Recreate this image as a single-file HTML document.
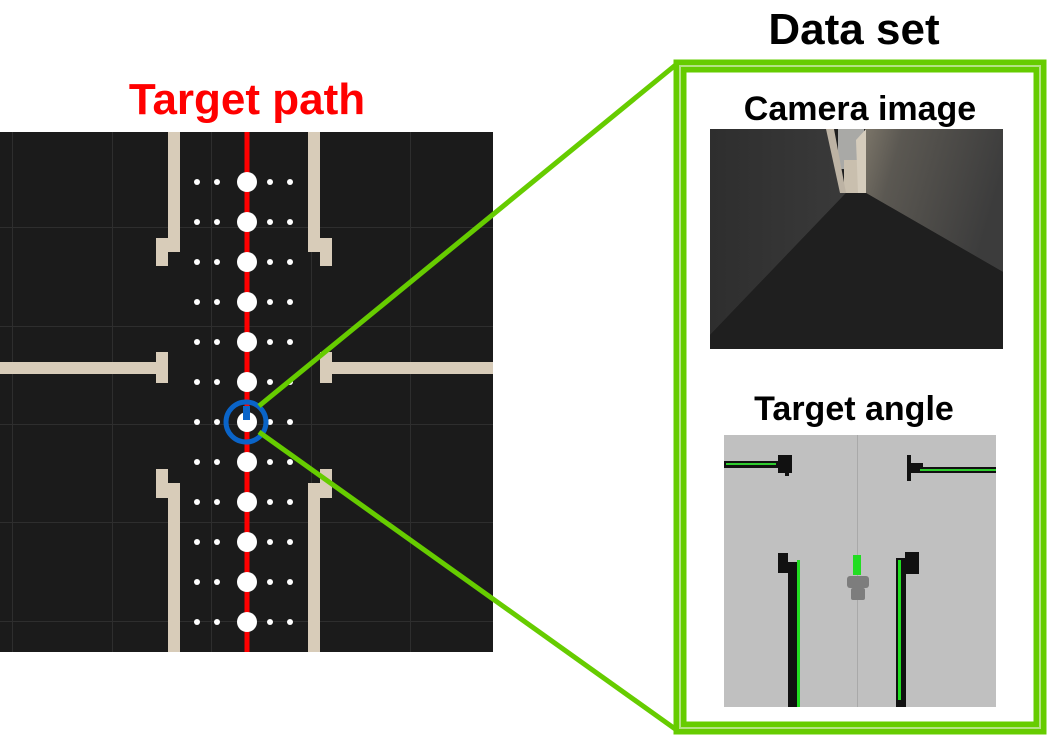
<!DOCTYPE html>
<html><head><meta charset="utf-8"><style>
html,body{margin:0;padding:0;background:#fff;}
svg{display:block;}
text{font-family:"Liberation Sans",Arial,sans-serif;font-weight:bold;}
</style></head><body>
<svg width="1049" height="736" viewBox="0 0 1049 736" xmlns="http://www.w3.org/2000/svg">
<defs>
<linearGradient id="rw" x1="0" y1="0" x2="1" y2="0.3">
<stop offset="0" stop-color="#7a7468"/><stop offset="0.25" stop-color="#5b5852"/><stop offset="1" stop-color="#3c3c3c"/>
</linearGradient>
<linearGradient id="lw" x1="0" y1="0" x2="1" y2="0">
<stop offset="0" stop-color="#2e2e2e"/><stop offset="1" stop-color="#3a3a3a"/>
</linearGradient>
</defs>
<text x="854" y="44" font-size="44" text-anchor="middle" fill="#000">Data set</text>
<text x="247" y="114" font-size="44" text-anchor="middle" fill="#ff0000">Target path</text>

<!-- map -->
<rect x="0" y="132" width="493" height="520" fill="#1b1b1b"/>
<g stroke="#2e2e2e" stroke-width="1">
<line x1="12.5" y1="132" x2="12.5" y2="652"/><line x1="112.5" y1="132" x2="112.5" y2="652"/>
<line x1="211.5" y1="132" x2="211.5" y2="652"/><line x1="311.5" y1="132" x2="311.5" y2="652"/>
<line x1="410.5" y1="132" x2="410.5" y2="652"/>
<line x1="0" y1="227.5" x2="493" y2="227.5"/><line x1="0" y1="326.5" x2="493" y2="326.5"/>
<line x1="0" y1="424.5" x2="493" y2="424.5"/><line x1="0" y1="522.5" x2="493" y2="522.5"/>
<line x1="0" y1="621.5" x2="493" y2="621.5"/>
</g>
<g fill="#d8ccb9">
<rect x="168" y="132" width="12" height="120"/><rect x="156" y="238" width="24" height="14"/><rect x="156" y="238" width="12" height="28"/>
<rect x="308" y="132" width="12" height="120"/><rect x="308" y="238" width="24" height="14"/><rect x="320" y="238" width="12" height="28"/>
<rect x="0" y="362" width="168" height="12"/><rect x="156" y="352" width="12" height="31"/>
<rect x="320" y="362" width="173" height="12"/><rect x="320" y="352" width="12" height="31"/>
<rect x="156" y="469" width="12" height="29"/><rect x="156" y="483" width="24" height="15"/><rect x="168" y="483" width="12" height="169"/>
<rect x="320" y="469" width="12" height="29"/><rect x="308" y="483" width="24" height="15"/><rect x="308" y="483" width="12" height="169"/>
</g>
<rect x="244.5" y="132" width="5" height="520" fill="#ff0000"/>
<g fill="#fff">
<circle cx="247" cy="182" r="10"/><circle cx="247" cy="222" r="10"/><circle cx="247" cy="262" r="10"/>
<circle cx="247" cy="302" r="10"/><circle cx="247" cy="342" r="10"/><circle cx="247" cy="382" r="10"/>
<circle cx="247" cy="422" r="10"/><circle cx="247" cy="462" r="10"/><circle cx="247" cy="502" r="10"/>
<circle cx="247" cy="542" r="10"/><circle cx="247" cy="582" r="10"/><circle cx="247" cy="622" r="10"/>
</g>
<g fill="#fff">
<circle cx="197" cy="182" r="3"/><circle cx="217" cy="182" r="3"/><circle cx="270" cy="182" r="3"/><circle cx="290" cy="182" r="3"/>
<circle cx="197" cy="222" r="3"/><circle cx="217" cy="222" r="3"/><circle cx="270" cy="222" r="3"/><circle cx="290" cy="222" r="3"/>
<circle cx="197" cy="262" r="3"/><circle cx="217" cy="262" r="3"/><circle cx="270" cy="262" r="3"/><circle cx="290" cy="262" r="3"/>
<circle cx="197" cy="302" r="3"/><circle cx="217" cy="302" r="3"/><circle cx="270" cy="302" r="3"/><circle cx="290" cy="302" r="3"/>
<circle cx="197" cy="342" r="3"/><circle cx="217" cy="342" r="3"/><circle cx="270" cy="342" r="3"/><circle cx="290" cy="342" r="3"/>
<circle cx="197" cy="382" r="3"/><circle cx="217" cy="382" r="3"/><circle cx="270" cy="382" r="3"/><circle cx="290" cy="382" r="3"/>
<circle cx="197" cy="422" r="3"/><circle cx="217" cy="422" r="3"/><circle cx="270" cy="422" r="3"/><circle cx="290" cy="422" r="3"/>
<circle cx="197" cy="462" r="3"/><circle cx="217" cy="462" r="3"/><circle cx="270" cy="462" r="3"/><circle cx="290" cy="462" r="3"/>
<circle cx="197" cy="502" r="3"/><circle cx="217" cy="502" r="3"/><circle cx="270" cy="502" r="3"/><circle cx="290" cy="502" r="3"/>
<circle cx="197" cy="542" r="3"/><circle cx="217" cy="542" r="3"/><circle cx="270" cy="542" r="3"/><circle cx="290" cy="542" r="3"/>
<circle cx="197" cy="582" r="3"/><circle cx="217" cy="582" r="3"/><circle cx="270" cy="582" r="3"/><circle cx="290" cy="582" r="3"/>
<circle cx="197" cy="622" r="3"/><circle cx="217" cy="622" r="3"/><circle cx="270" cy="622" r="3"/><circle cx="290" cy="622" r="3"/>
</g>
<circle cx="246" cy="422" r="20" fill="none" stroke="#0a64c8" stroke-width="5"/>
<rect x="243" y="406" width="7" height="14" fill="#0a64c8"/>

<!-- connectors -->
<line x1="259" y1="406" x2="678" y2="63" stroke="#66cc00" stroke-width="5"/>
<line x1="259" y1="432" x2="678" y2="731" stroke="#66cc00" stroke-width="5"/>

<!-- data set box -->
<rect x="680" y="66" width="360" height="662" fill="none" stroke="#66cc00" stroke-width="13"/>
<rect x="680" y="66" width="360" height="662" fill="none" stroke="#b3e283" stroke-width="2"/>

<text x="860" y="120" font-size="34" text-anchor="middle" fill="#000">Camera image</text>
<!-- camera image -->
<rect x="710" y="129" width="293" height="220" fill="#1f1f1f"/>
<polygon points="710,129 826,129 846,193 710,335" fill="url(#lw)"/>
<polygon points="866,129 1003,129 1003,272 866,193" fill="url(#rw)"/>
<rect x="838" y="129" width="26" height="40" fill="#a9a9a6"/>
<rect x="844" y="160" width="14" height="33" fill="#c9bfae"/>
<polygon points="826,129 834,129 846,193 840,193" fill="#bdb3a4"/>
<polygon points="856,140 866,129 866,193 858,193" fill="#d5ccbc"/>
<polygon points="846,193 866,193 1003,272 1003,349 710,349 710,335" fill="#1f1f1f"/>

<text x="854" y="420" font-size="34" text-anchor="middle" fill="#000">Target angle</text>
<!-- target angle -->
<rect x="724" y="435" width="272" height="272" fill="#c0c0c0"/>
<line x1="857.5" y1="435" x2="857.5" y2="707" stroke="#a9a9a9" stroke-width="1"/>
<rect x="724" y="461" width="56" height="7" fill="#111"/>
<rect x="726" y="463" width="50" height="2" fill="#2ecc2e"/>
<rect x="778" y="455" width="14" height="18" fill="#111"/>
<rect x="785" y="466" width="4" height="10" fill="#111"/>
<rect x="907" y="455" width="4" height="26" fill="#111"/>
<rect x="911" y="463" width="12" height="10" fill="#111"/>
<rect x="920" y="467" width="76" height="6" fill="#111"/>
<rect x="920" y="469" width="76" height="2" fill="#2ecc2e"/>
<rect x="778" y="553" width="10" height="20" fill="#111"/>
<rect x="788" y="562" width="10" height="145" fill="#111"/>
<rect x="797" y="560" width="3" height="147" fill="#22dd22"/>
<rect x="896" y="558" width="10" height="149" fill="#111"/>
<rect x="898" y="560" width="3" height="140" fill="#22dd22"/>
<rect x="905" y="552" width="14" height="22" fill="#111"/>
<rect x="853" y="555" width="8" height="20" fill="#22dd22"/>
<rect x="847" y="576" width="22" height="12" rx="3" fill="#7d7d7d"/>
<rect x="851" y="588" width="14" height="12" rx="2" fill="#7d7d7d"/>
</svg>
</body></html>
